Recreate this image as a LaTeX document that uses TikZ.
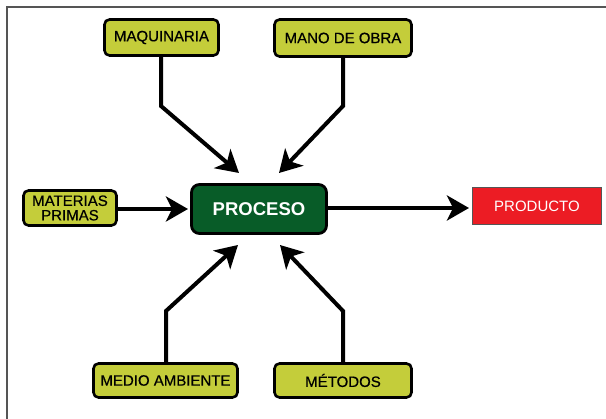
\documentclass[tikz,border=0pt]{standalone}
\usepackage{fontspec}
\setmainfont{Liberation Sans}
\newfontfamily\medfont[FakeBold=0.5]{Liberation Sans}
\usetikzlibrary{arrows.meta}
\definecolor{ybox}{RGB}{196,205,58}
\definecolor{gproc}{RGB}{8,92,40}
\definecolor{rprod}{RGB}{236,28,36}
\definecolor{frame}{RGB}{85,85,85}
\begin{document}
\begin{tikzpicture}[x=1pt,y=-1pt,
  ybox/.style={draw=black,line width=2.6pt,fill=ybox,rounded corners=5pt,
    inner sep=0pt,font=\medfont\fontsize{15}{14.5}\selectfont,align=center,text=black},
  procbox/.style={draw=black,line width=2.8pt,fill=gproc,rounded corners=8pt,
    inner sep=0pt,font=\fontsize{18.5}{20}\selectfont\bfseries,text=white},
  prodbox/.style={draw=frame,line width=1.2pt,fill=rprod,inner sep=0pt,
    font=\fontsize{15}{16}\selectfont,text=white},
  conn/.style={line width=4pt,draw=black,line join=miter,
    -{Stealth[length=22pt,width=25pt,inset=6pt]}}]
\useasboundingbox (0,0) rectangle (606,419);
\fill[white] (0,0) rectangle (606,419);
\draw[frame,line width=1.5pt] (7,425) -- (7,7) -- (612,7);

\node[ybox,minimum width=114pt,minimum height=36pt] (maq) at (161.5,37.5) {MAQUINARIA};
\node[ybox,minimum width=137pt,minimum height=37pt] (mano) at (343,38) {MANO DE OBRA};
\node[ybox,minimum width=93pt,minimum height=35pt] (mat) at (70,208) {MATERIAS\\PRIMAS};
\node[procbox,minimum width=135pt,minimum height=49pt] (proc) at (259,209) {PROCESO};
\node[prodbox,minimum width=129pt,minimum height=37pt] (prod) at (537,206) {PRODUCTO};
\node[ybox,minimum width=144pt,minimum height=34pt] (medio) at (165.5,380.5) {MEDIO AMBIENTE};
\node[ybox,minimum width=137pt,minimum height=34pt] (met) at (343,380.5) {MÉTODOS};

\coordinate (maqbend) at (161,106);
\coordinate (maqtip) at (239,173);
\coordinate (manobend) at (343,106);
\coordinate (manotip) at (279,173);
\coordinate (mediobend) at (166,311);
\coordinate (mediotip) at (238,245);
\coordinate (metbend) at (343,311);
\coordinate (mettip) at (280,245);
\coordinate (mattip) at (188,209);
\coordinate (prodtip) at (469,208);

\draw[conn] (maq.south -| maqbend) -- (maqbend) -- (maqtip);
\draw[conn] (mano.south -| manobend) -- (manobend) -- (manotip);
\draw[conn] (medio.north -| mediobend) -- (mediobend) -- (mediotip);
\draw[conn] (met.north -| metbend) -- (metbend) -- (mettip);
\draw[conn] (mat.east |- mattip) -- (mattip);
\draw[conn] (proc.east |- prodtip) -- (prodtip);
\end{tikzpicture}
\end{document}
